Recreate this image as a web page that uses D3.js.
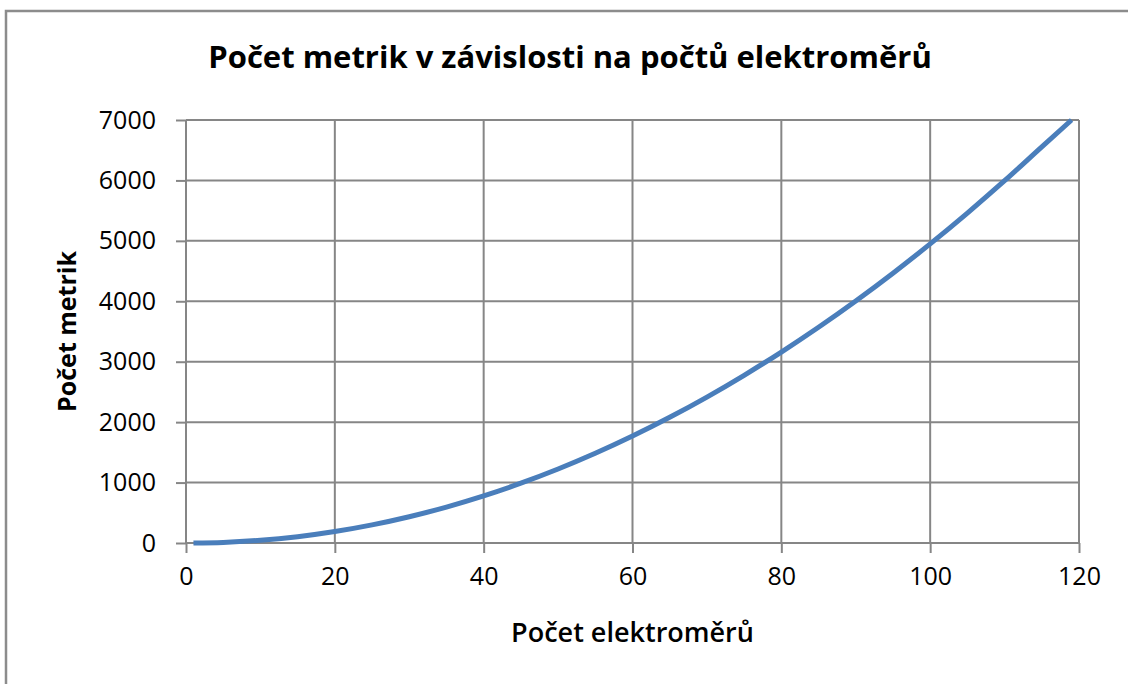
<!DOCTYPE html>
<html lang="cs">
<head>
    <meta charset="utf-8">
    <title>Počet metrik</title>
    <script type="text/javascript" src="https://d3js.org/d3.v7.min.js"></script>
    <style>
        html, body { margin: 0; background: #fff; overflow: hidden; }
        svg { display: block; }
        text { font-family: "Open Sans", "Noto Sans", sans-serif; fill: #000; }
        .tick text { font-size: 25px; }
    </style>
</head>
<body>
    <div id="chart"></div>
    <script type="text/javascript">
        // values
        const electrometers = [1, 5, 10, 15, 20, 25, 30, 35, 40, 45, 50, 55, 60, 65, 70, 75, 80, 85, 90, 95, 100, 105, 110, 115, 119];
        const metrics = [0, 10, 45, 105, 190, 300, 435, 595, 780, 990, 1225, 1485, 1770, 2080, 2415, 2775, 3160, 3570, 4005, 4465, 4950, 5460, 5995, 6555, 7000];
        const xTicks = [0, 20, 40, 60, 80, 100, 120];
        const yTicks = [0, 1000, 2000, 3000, 4000, 5000, 6000, 7000];

        const width = 1128;
        const height = 684;
        const margin = {top: 120, right: 49, bottom: 141, left: 186};

        const data = electrometers.map((n, i) => ({n: n, m: metrics[i]}));

        const svg = d3.select("#chart")
            .append("svg")
            .attr("width", width)
            .attr("height", height);

        // chart border: only top and left edges are in the frame
        svg.append("path")
            .attr("d", `M6,${height + 10}V11H${width + 10}`)
            .attr("fill", "none")
            .attr("stroke", "#8c8c8c")
            .attr("stroke-width", 2.5);

        const x = d3.scaleLinear()
            .domain([0, 120])
            .range([margin.left, width - margin.right]);

        const y = d3.scaleLinear()
            .domain([0, 7000])
            .range([height - margin.bottom, margin.top]);

        // gridlines
        svg.append("g")
            .selectAll("line")
            .data(xTicks)
            .enter()
            .append("line")
                .attr("x1", d => x(d))
                .attr("x2", d => x(d))
                .attr("y1", y(0))
                .attr("y2", y(7000))
                .attr("stroke", "#868686")
                .attr("stroke-width", 2);

        svg.append("g")
            .selectAll("line")
            .data(yTicks)
            .enter()
            .append("line")
                .attr("x1", x(0))
                .attr("x2", x(120))
                .attr("y1", d => y(d))
                .attr("y2", d => y(d))
                .attr("stroke", "#868686")
                .attr("stroke-width", 2);

        // axes
        const xAxis = svg.append("g")
            .attr("transform", `translate(0,${y(0)})`)
            .call(d3.axisBottom(x).tickValues(xTicks).tickFormat(d3.format("d"))
                .tickSize(10).tickPadding(14).tickSizeOuter(0));
        xAxis.select(".domain").remove();
        xAxis.selectAll(".tick line").attr("stroke", "#868686").attr("stroke-width", 2);

        const yAxis = svg.append("g")
            .attr("transform", `translate(${x(0)},0)`)
            .call(d3.axisLeft(y).tickValues(yTicks).tickFormat(d3.format("d"))
                .tickSize(10).tickPadding(20).tickSizeOuter(0));
        yAxis.select(".domain").remove();
        yAxis.selectAll(".tick line").attr("stroke", "#868686").attr("stroke-width", 2);

        // curve
        const line = d3.line()
            .x(d => x(d.n))
            .y(d => y(d.m))
            .curve(d3.curveMonotoneX);

        svg.append("path")
            .datum(data)
            .attr("fill", "none")
            .attr("stroke", "#4a7ebb")
            .attr("stroke-width", 5)
            .attr("d", line);

        // titles
        svg.append("text")
            .attr("x", 570)
            .attr("y", 68)
            .attr("text-anchor", "middle")
            .attr("font-size", 31)
            .attr("font-weight", "bold")
            .text("Počet metrik v závislosti na počtů elektroměrů");

        svg.append("text")
            .attr("x", (x(0) + x(120)) / 2)
            .attr("y", 642)
            .attr("text-anchor", "middle")
            .attr("font-size", 27)
            .attr("font-weight", 600)
            .text("Počet elektroměrů");

        svg.append("text")
            .attr("transform", `translate(76,${(y(0) + y(7000)) / 2}) rotate(-90)`)
            .attr("text-anchor", "middle")
            .attr("font-size", 25)
            .attr("font-weight", "bold")
            .text("Počet metrik");
    </script>
</body>
</html>
